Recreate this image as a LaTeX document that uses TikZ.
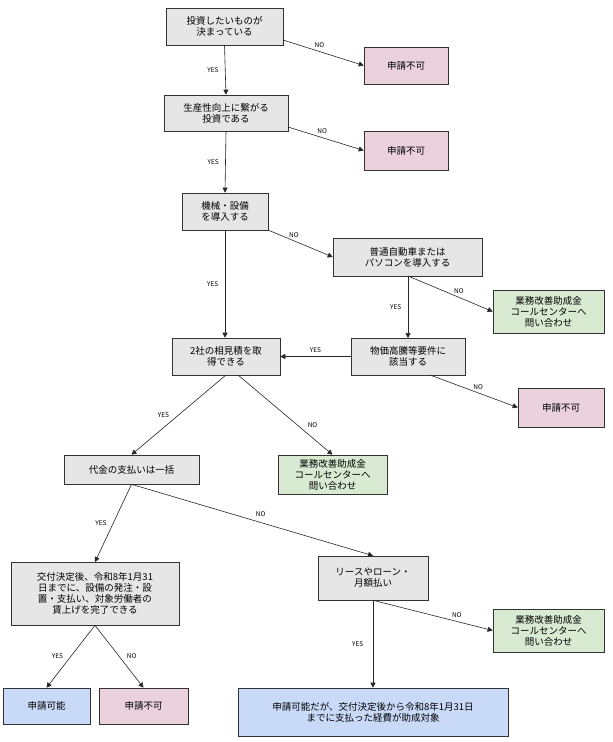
\documentclass[tikz,border=0pt]{standalone}
\usepackage{fontspec}
\setmainfont{Noto Sans CJK JP}
\usetikzlibrary{arrows.meta}
\definecolor{gr}{HTML}{E6E6E6}
\definecolor{pk}{HTML}{EAD1DC}
\definecolor{gn}{HTML}{D9EAD3}
\definecolor{bl}{HTML}{C9DAF8}
\begin{document}
\begin{tikzpicture}[x=1pt,y=-1pt,
 box/.style={draw=black!80,line width=0.6pt,inner sep=1pt,align=center,font=\fontsize{9.5}{11}\selectfont},
 g/.style={box,fill=gr},p/.style={box,fill=pk},n/.style={box,fill=gn},b/.style={box,fill=bl},
 ar/.style={draw=black!85,line width=0.6pt,-{Triangle[length=5pt,width=5pt]}},
 lb/.style={font=\fontsize{6.5}{7}\selectfont}]
\useasboundingbox[fill=white] (0,0) rectangle (613,742);
\def\bx#1#2#3#4#5#6#7{\node[#2,minimum width=#5-#3,minimum height=#6-#4] (#1) at ({(#3+#5)/2},{(#4+#6)/2}) {#7};}
\bx{a}{g}{166}{8}{283}{45}{投資したいものが\\決まっている}
\bx{p1}{p}{364}{47}{448}{84}{申請不可}
\bx{c}{g}{164}{95}{288}{131}{生産性向上に繋がる\\投資である}
\bx{p2}{p}{364}{131}{448}{170}{申請不可}
\bx{d}{g}{182}{193}{268}{230}{機械・設備\\を導入する}
\bx{e}{g}{333}{238}{482}{276}{普通自動車または\\パソコンを導入する}
\bx{n1}{n}{493}{290}{604}{333}{業務改善助成金\\コールセンターへ\\問い合わせ}
\bx{f}{g}{351}{338}{465}{375}{物価高騰等要件に\\該当する}
\bx{h}{g}{172}{338}{280}{375}{2社の相見積を取\\得できる}
\bx{p3}{p}{518}{388}{604}{427}{申請不可}
\bx{i}{g}{64}{455}{199}{484}{代金の支払いは一括}
\bx{n2}{n}{278}{455}{387}{494}{業務改善助成金\\コールセンターへ\\問い合わせ}
\bx{j}{g}{11}{562}{179}{625}{交付決定後、令和8年1月31\\日までに、設備の発注・設\\置・支払い、対象労働者の\\賃上げを完了できる}
\bx{k}{g}{318}{556}{428}{600}{リースやローン・\\月額払い}
\bx{n3}{n}{493}{609}{604}{652}{業務改善助成金\\コールセンターへ\\問い合わせ}
\bx{q1}{b}{3}{688}{90}{724}{申請可能}
\bx{p4}{p}{99}{688}{188}{724}{申請不可}
\bx{r}{b}{238}{688}{508}{736}{申請可能だが、交付決定後から令和8年1月31日\\までに支払った経費が助成対象}
\draw[ar] (283,40) -- (p1.west) node[lb,pos=0.45,above]{NO};
\draw[ar] (a.south) -- (c.north) node[lb,midway,left=3pt]{YES};
\draw[ar] (288,127) -- (p2.west) node[lb,pos=0.45,above]{NO};
\draw[ar] (c.south) -- (d.north) node[lb,midway,left=3pt]{YES};
\draw[ar] (268,230) -- (e.west) node[lb,pos=0.4,above]{NO};
\draw[ar] (d.south) -- (h.north-|d.south) node[lb,midway,left=3pt]{YES};
\draw[ar] (408,276) -- (n1.west) node[lb,pos=0.6,above]{NO};
\draw[ar] (408,276) -- (408,338) node[lb,midway,left=3pt]{YES};
\draw[ar] (f.west) -- (h.east) node[lb,midway,above]{YES};
\draw[ar] (430,375) -- (p3.west) node[lb,pos=0.55,above]{NO};
\draw[ar] (226,375) -- (i.north) node[lb,midway,left=6pt]{YES};
\draw[ar] (238,375) -- (n2.north) node[lb,pos=0.7,above right]{NO};
\draw[ar] (i.south) -- (95,562) node[lb,midway,left=3pt]{YES};
\draw[ar] (i.south) -- (k.north) node[lb,midway,above right]{NO};
\draw[ar] (j.south) -- (q1.north) node[lb,midway,left=4pt]{YES};
\draw[ar] (j.south) -- (p4.north) node[lb,midway,right=4pt]{NO};
\draw[ar] (k.south) -- (n3.west) node[lb,pos=0.7,above]{NO};
\draw[ar] (k.south) -- (r.north-|k.south) node[lb,midway,left=6pt]{YES};
\end{tikzpicture}
\end{document}
